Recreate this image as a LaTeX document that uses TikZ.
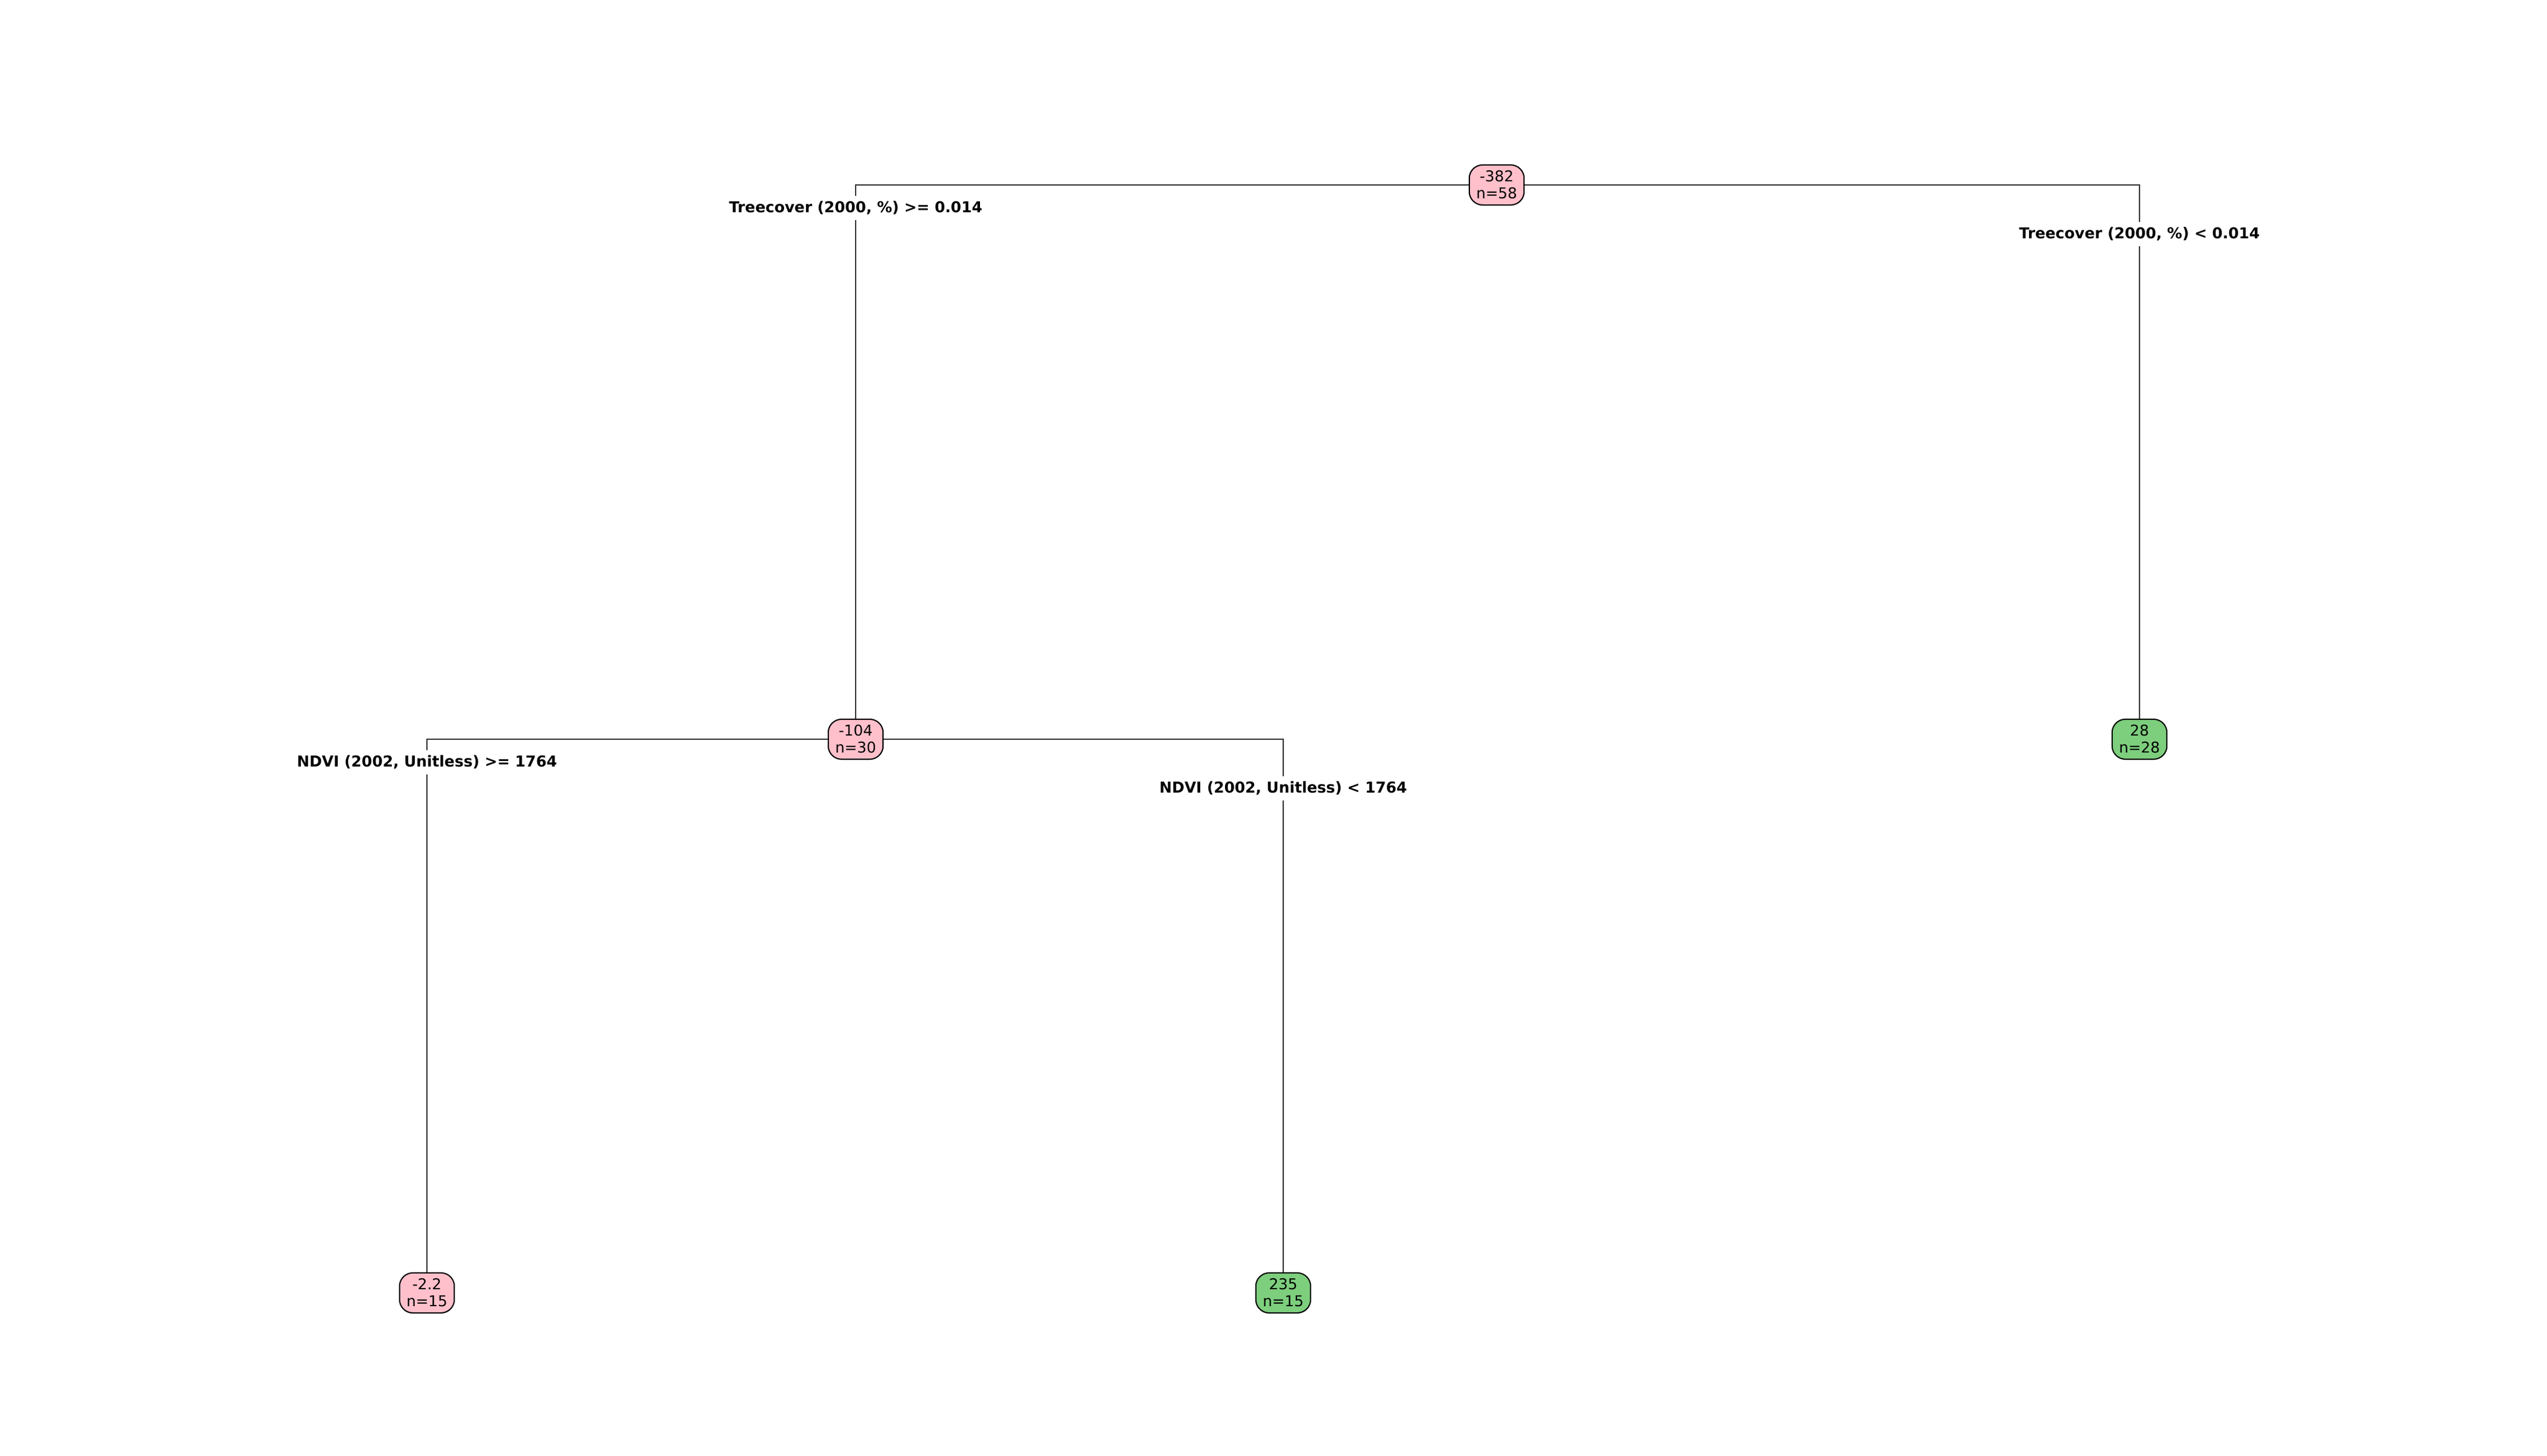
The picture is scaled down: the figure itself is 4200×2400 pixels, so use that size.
\documentclass[tikz,border=0pt]{standalone}
\usepackage{fontspec}
\setmainfont{DejaVu Sans}
\pgfdeclarelayer{background}
\pgfsetlayers{background,main}
\definecolor{nodepink}{RGB}{255,192,203}
\definecolor{nodegreen}{RGB}{125,206,125}
\definecolor{edgegray}{RGB}{51,51,51}
\tikzset{
  treenode/.style={draw=black, line width=0.5pt, rounded corners=5.5pt,
    minimum width=22.6pt, minimum height=16.5pt, inner sep=0pt,
    align=center, font=\fontsize{6.15pt}{7pt}\selectfont},
  pinknode/.style={treenode, fill=nodepink},
  greennode/.style={treenode, fill=nodegreen},
  edgeline/.style={draw=edgegray, line width=0.6pt},
  splitlabel/.style={fill=white, inner xsep=1pt, inner ysep=2.3pt,
    font=\fontsize{6.2pt}{7pt}\selectfont\bfseries}
}
\begin{document}
\begin{tikzpicture}[x=0.25pt,y=-0.25pt]
\begin{pgfonlayer}{background}
\fill[white] (0,0) rectangle (4200,2400);
\end{pgfonlayer}
\useasboundingbox (0,0) rectangle (4200,2400);
\node[pinknode] (root) at (2468,305) {-382\\n=58};
\node[pinknode] (c1) at (1411,1219) {-104\\n=30};
\node[greennode] (leafa) at (3528,1219) {28\\n=28};
\node[pinknode] (leafb) at (704,2132) {-2.2\\n=15};
\node[greennode] (leafc) at (2116,2132) {235\\n=15};
\begin{pgfonlayer}{background}
\draw[edgeline] (root.west) -| (c1.north);
\draw[edgeline] (root.east) -| (leafa.north);
\draw[edgeline] (c1.west) -| (leafb.north);
\draw[edgeline] (c1.east) -| (leafc.north);
\end{pgfonlayer}
\node[splitlabel] (lab1) at (1411,343) {Treecover (2000, \%) >= 0.014};
\node[splitlabel] (lab2) at (3528,386) {Treecover (2000, \%) < 0.014};
\node[splitlabel] (lab3) at (704,1257) {NDVI (2002, Unitless) >= 1764};
\node[splitlabel] (lab4) at (2116,1300) {NDVI (2002, Unitless) < 1764};
\end{tikzpicture}
\end{document}
